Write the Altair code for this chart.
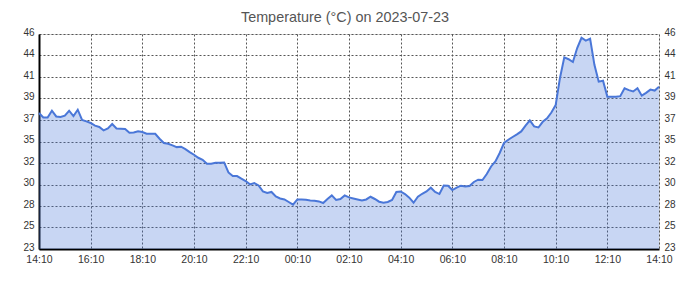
import altair as alt
import pandas as pd

# Temperature every 10 minutes from 14:10 (2023-07-23) to 14:10 next day
TEMPS = [
    37.55, 37.07, 37.07, 37.79, 37.18, 37.12, 37.26, 37.79, 37.22, 37.90,
    36.80, 36.65, 36.48, 36.19, 36.05, 35.69, 35.90, 36.37, 35.90, 35.87,
    35.83, 35.44, 35.47, 35.60, 35.51, 35.33, 35.33, 35.33, 34.80, 34.34,
    34.26, 34.08, 33.90, 33.94, 33.69, 33.37, 33.08, 32.76, 32.55, 32.12,
    32.12, 32.23, 32.23, 32.26, 31.19, 30.80, 30.80, 30.52, 30.27, 29.91,
    30.06, 29.80, 29.16, 28.99, 29.10, 28.63, 28.41, 28.30, 28.03, 27.74,
    28.30, 28.30, 28.27, 28.20, 28.17, 28.09, 27.92, 28.35, 28.73, 28.24,
    28.35, 28.73, 28.52, 28.41, 28.30, 28.20, 28.30, 28.59, 28.35, 28.06,
    27.95, 28.03, 28.24, 29.10, 29.16, 28.88, 28.49, 27.95, 28.59, 28.91,
    29.16, 29.56, 29.10, 28.88, 29.80, 29.77, 29.31, 29.56, 29.77, 29.70,
    29.74, 30.17, 30.41, 30.38, 31.02, 31.83, 32.37, 33.27, 34.34, 34.69,
    34.98, 35.26, 35.58, 36.19, 36.76, 36.12, 36.00, 36.61, 36.97, 37.60,
    38.40, 41.30, 43.50, 43.30, 43.00, 44.50, 45.60, 45.30, 45.50, 42.70,
    40.90, 41.00, 39.30, 39.30, 39.30, 39.35, 40.20, 40.00, 39.85, 40.20,
    39.40, 39.70, 40.05, 39.95, 40.35,
]
STEP_MIN = 10
Y_MIN, Y_MAX = 23, 46
Y_TICKS = [23, 25.3, 27.6, 29.9, 32.2, 34.5, 36.8, 39.1, 41.4, 43.7, 46]
X_GRID = list(range(0, 1441, 60))
TITLE = "Temperature (°C) on 2023-07-23"

df = pd.DataFrame({"min": [i * STEP_MIN for i in range(len(TEMPS))], "temp": TEMPS})

FONT = "Liberation Sans"
LINE = "#4a77d8"
GRID = "#555555"
DASH = [2, 2]

x_enc = alt.X(
    "min:Q",
    scale=alt.Scale(domain=[0, 1440], nice=False, zero=False),
    axis=alt.Axis(
        values=X_GRID,
        labelExpr="datum.value % 120 == 0 ? timeFormat(datetime(2023, 6, 23, 14, 10 + datum.value), '%H:%M') : ''",
        title=None, grid=True, gridDash=DASH, gridColor=GRID, gridOpacity=1,
        ticks=False, tickSize=0, labelPadding=5, domainColor="#000000", domainWidth=2,
        labelFont=FONT, labelFontSize=10.5, labelColor="#333333", labelOverlap=False,
        labelFlush=False, labelBound=False,
    ),
)

y_scale = alt.Scale(domain=[Y_MIN, Y_MAX], nice=False, zero=False)
lbl = "format(round(datum.value), 'd')"

area = alt.Chart(df).mark_area(color=LINE, opacity=0.3, clip=True).encode(
    x=x_enc,
    y=alt.Y("temp:Q", scale=y_scale, axis=alt.Axis(
        values=Y_TICKS, labelExpr=lbl, orient="left", title=None,
        grid=True, gridDash=DASH, gridColor=GRID, gridOpacity=1,
        ticks=False, tickSize=0, labelPadding=5, labelOffset=-2,
        domainColor="#000000", domainWidth=2,
        labelFont=FONT, labelFontSize=10, labelColor="#333333",
        labelFlush=False, labelBound=False,
    )),
    y2=alt.datum(Y_MIN),
)

line = alt.Chart(df).mark_line(color=LINE, strokeWidth=2).encode(
    x=alt.X("min:Q", scale=alt.Scale(domain=[0, 1440], nice=False, zero=False)),
    y=alt.Y("temp:Q", scale=y_scale, axis=alt.Axis(
        values=Y_TICKS, labelExpr=lbl, orient="right", title=None,
        grid=False, domain=False, ticks=False, tickSize=0, labelPadding=5,
        labelOffset=-2,
        labelFont=FONT, labelFontSize=10, labelColor="#333333",
        labelFlush=False, labelBound=False,
    )),
)

chart = (
    alt.layer(area, line)
    .resolve_scale(y="independent")
    .properties(
        width=620, height=215,
        title=alt.TitleParams(TITLE, font=FONT, fontSize=14.4, fontWeight="normal",
                              color="#555555", anchor="middle", offset=2, dx=-4),
        autosize=alt.AutoSizeParams(type="none"),
        padding={"left": 39, "top": 34, "right": 31, "bottom": 36},
    )
    .configure_view(strokeWidth=0)
    .configure(background="#ffffff")
)

chart.save("out.html", embed_options={"renderer": "svg", "actions": False})
